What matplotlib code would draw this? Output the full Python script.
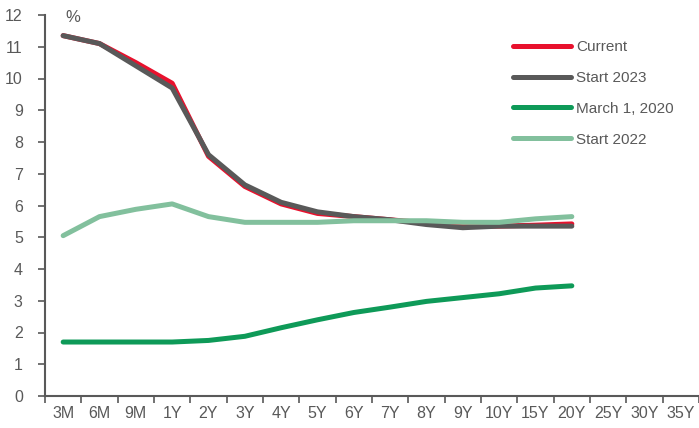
import matplotlib.pyplot as plt
import numpy as np

plt.rcParams['font.family'] = ['Liberation Sans', 'DejaVu Sans']

tenors = ["3M", "6M", "9M", "1Y", "2Y", "3Y", "4Y", "5Y", "6Y", "7Y", "8Y",
          "9Y", "10Y", "15Y", "20Y", "25Y", "30Y", "35Y"]

current = [11.35, 11.1, 10.5, 9.85, 7.55, 6.6, 6.05, 5.75, 5.65, 5.55, 5.45,
           5.35, 5.35, 5.38, 5.42]
start_2023 = [11.35, 11.1, 10.4, 9.7, 7.6, 6.65, 6.1, 5.8, 5.65, 5.55, 5.4,
              5.3, 5.35, 5.35, 5.35]
march_2020 = [1.7, 1.7, 1.7, 1.7, 1.75, 1.88, 2.15, 2.4, 2.63, 2.8, 2.98,
              3.1, 3.22, 3.4, 3.47]
start_2022 = [5.05, 5.65, 5.88, 6.05, 5.65, 5.47, 5.47, 5.47, 5.52, 5.52, 5.52,
              5.47, 5.47, 5.58, 5.65]

grey = "#595959"

fig = plt.figure(figsize=(6.99, 4.28), dpi=100)
ax = fig.add_axes([45 / 699, 32 / 428, 654 / 699, 381 / 428])

x = np.arange(len(current))
ax.plot(x, current, color="#E8112D", lw=3.6, label="Current", solid_capstyle="round")
ax.plot(x, start_2023, color=grey, lw=3.6, label="Start 2023", solid_capstyle="round")
ax.plot(x, march_2020, color="#0E9A58", lw=3.6, label="March 1, 2020", solid_capstyle="round")
ax.plot(x, start_2022, color="#82C09D", lw=3.6, label="Start 2022", solid_capstyle="round")

ax.set_xlim(-0.5, len(tenors) - 0.5)
ax.set_ylim(0, 12)
ax.set_yticks(range(0, 13))
ax.set_xticks(range(len(tenors)))
ax.set_xticklabels(tenors)
ax.set_xticks(np.arange(-0.5, len(tenors), 1), minor=True)
ax.tick_params(axis="x", which="major", length=0, pad=7)
ax.tick_params(axis="x", which="minor", length=5, width=1.2, color=grey, direction="out")
ax.tick_params(axis="y", length=5, width=1.2, color=grey, pad=11)
ax.tick_params(labelsize=11.5, labelcolor=grey)

for s in ["top", "right"]:
    ax.spines[s].set_visible(False)
for s in ["left", "bottom"]:
    ax.spines[s].set_color(grey)
    ax.spines[s].set_linewidth(1.5)

ax.text(0.05, 11.7, "%", fontsize=12, color=grey, ha="left", va="bottom")

leg = ax.legend(loc="upper right", bbox_to_anchor=(0.982, 0.97), frameon=False,
                fontsize=11, handlelength=3.8, handletextpad=0.3, labelspacing=1.1)
for t in leg.get_texts():
    t.set_color(grey)

fig.savefig("out.png", dpi=100)
